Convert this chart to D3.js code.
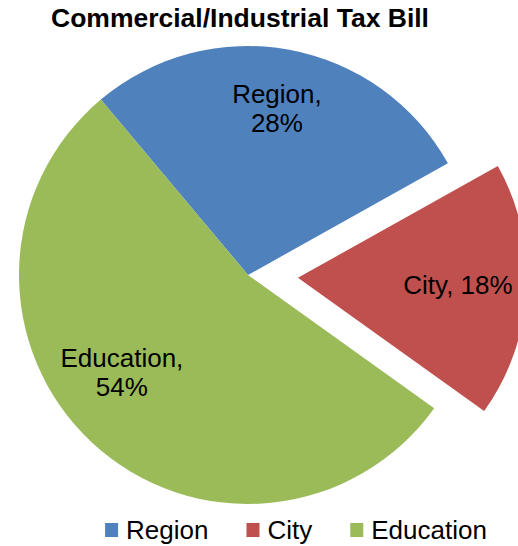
<!DOCTYPE html>
<html>
<head>
<meta charset="utf-8">
<script src="https://cdn.jsdelivr.net/npm/d3@7"></script>
<style>
  html, body { margin: 0; padding: 0; background: #fff; }
  svg { display: block; font-family: "Liberation Sans", Arial, sans-serif; }
</style>
</head>
<body>
<svg id="chart" width="518" height="546"></svg>
<script>
// Tax bill shares by recipient
const categories = ["Region", "City", "Education"];
const shares = [28, 18, 54];
const colors = ["#4F81BD", "#C0504D", "#9BBB59"];
const chartTitle = "Commercial/Industrial Tax Bill";

const W = 518, H = 546;
const cx = 248, cy = 275, R = 229;
const explodeIndex = 1, explodeDist = 50;
const startDeg = -40;

const svg = d3.select("#chart");

const pie = d3.pie()
  .sort(null)
  .value(d => d)
  .startAngle(startDeg * Math.PI / 180)
  .endAngle((startDeg + 360) * Math.PI / 180);
const arcs = pie(shares);

const arc = d3.arc().innerRadius(0).outerRadius(R);

// clip so the exploded slice is cut at the chart edge
svg.append("clipPath").attr("id", "plotClip")
  .append("rect").attr("x", 0).attr("y", 0).attr("width", W).attr("height", H);

const plot = svg.append("g").attr("clip-path", "url(#plotClip)");

function offsetOf(d, i) {
  if (i !== explodeIndex) return [0, 0];
  const mid = (d.startAngle + d.endAngle) / 2;
  return [Math.sin(mid) * explodeDist, -Math.cos(mid) * explodeDist];
}

const slices = plot.selectAll("g.slice")
  .data(arcs)
  .join("g")
  .attr("class", "slice")
  .attr("transform", (d, i) => {
    const o = offsetOf(d, i);
    return `translate(${cx + o[0]},${cy + o[1]})`;
  });

slices.append("path")
  .attr("d", arc)
  .attr("fill", (d, i) => colors[i]);

// data labels
const labelRadius = [0.70, 0.70, 0.72];
const labelTurn = [0, 0, 7.1]; // degrees, best-fit nudge
const fontSize = 26;

slices.each(function(d, i) {
  const mid = (d.startAngle + d.endAngle) / 2 + labelTurn[i] * Math.PI / 180;
  const r = R * labelRadius[i];
  const x = Math.sin(mid) * r, y = -Math.cos(mid) * r;
  const pct = Math.round(shares[i] / d3.sum(shares) * 100) + "%";
  const t = d3.select(this).append("text")
    .attr("text-anchor", "middle")
    .attr("font-size", fontSize)
    .attr("fill", "#000");
  if (i === explodeIndex) {
    t.append("tspan").attr("x", x).attr("y", y + 7).text(`${categories[i]}, ${pct}`);
  } else {
    t.append("tspan").attr("x", x).attr("y", y - 14.5).text(`${categories[i]},`);
    t.append("tspan").attr("x", x).attr("y", y + 14.5).text(pct);
  }
});

// title
svg.append("text")
  .attr("x", 240)
  .attr("y", 27)
  .attr("text-anchor", "middle")
  .attr("font-size", 26.5)
  .attr("font-weight", "bold")
  .attr("fill", "#000")
  .text(chartTitle);

// legend
const legend = svg.append("g");
const sq = 13, sqGap = 8, itemGap = 38, legendBaseline = 539, legendCenter = 296;
let xpos = 0;
const items = categories.map((c, i) => {
  const g = legend.append("g");
  g.append("rect")
    .attr("x", 0).attr("y", legendBaseline - 16)
    .attr("width", sq).attr("height", sq + 1)
    .attr("fill", colors[i]);
  const tx = g.append("text")
    .attr("x", sq + sqGap).attr("y", legendBaseline)
    .attr("font-size", fontSize)
    .attr("fill", "#000")
    .text(c);
  const w = sq + sqGap + tx.node().getComputedTextLength();
  g.attr("transform", `translate(${xpos},0)`);
  xpos += w + itemGap;
  return w;
});
const totalW = xpos - itemGap;
legend.attr("transform", `translate(${legendCenter - totalW / 2},0)`);
</script>
</body>
</html>
